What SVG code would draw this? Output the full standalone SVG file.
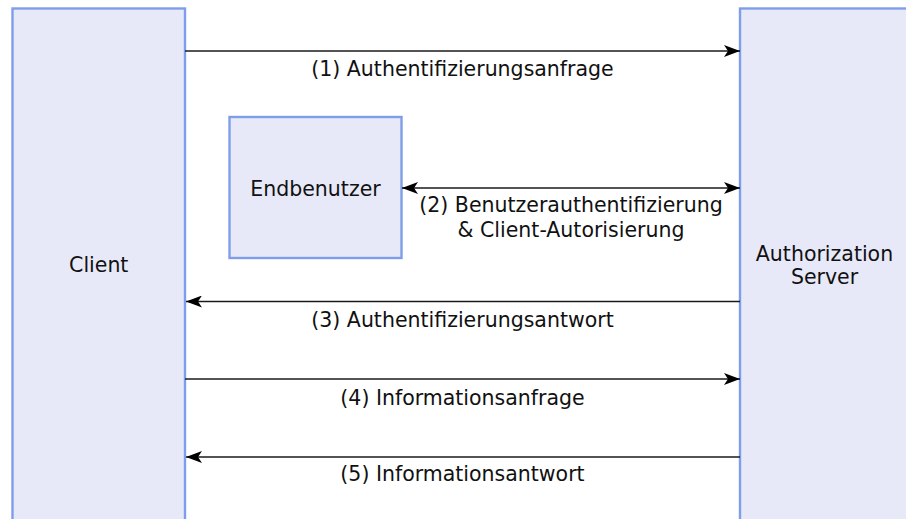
<svg xmlns="http://www.w3.org/2000/svg" width="906" height="519" viewBox="0 0 906 519">
  <style>
    .box { fill: #E8E9F8; stroke: #7F9EEA; stroke-width: 2.4; }
    .lbl { font-family: "DejaVu Sans", "Liberation Sans", sans-serif; font-size: 20.5px; fill: #111; text-anchor: middle; }
    .edge { stroke: #1a1a1a; stroke-width: 1.5; fill: none; }
  </style>
  <defs>
    <marker id="arrowEnd" markerUnits="userSpaceOnUse" viewBox="0 0 16 12" refX="16" refY="6" markerWidth="16" markerHeight="12" orient="auto">
      <path d="M0,0 L16,6 L0,12 L4,6 Z" fill="#000"/>
    </marker>
    <marker id="arrowStart" markerUnits="userSpaceOnUse" viewBox="0 0 16 12" refX="0" refY="6" markerWidth="16" markerHeight="12" orient="auto">
      <path d="M16,0 L0,6 L16,12 L12,6 Z" fill="#000"/>
    </marker>
  </defs>

  <rect width="906" height="519" fill="#fff"/>

  <g id="client">
    <rect class="box" x="12.5" y="8.5" width="172.5" height="514"/>
    <text class="lbl" x="98.75" y="272">Client</text>
  </g>

  <g id="auth-server">
    <rect class="box" x="740" y="8.5" width="172.5" height="514"/>
    <text class="lbl" x="824.5" y="261">Authorization</text>
    <text class="lbl" x="824.5" y="284">Server</text>
  </g>

  <g id="endbenutzer">
    <rect class="box" x="229.5" y="117" width="172" height="141"/>
    <text class="lbl" x="315.5" y="195.5">Endbenutzer</text>
  </g>

  <g id="connectors">
    <line class="edge" x1="185" y1="51" x2="740" y2="51" marker-end="url(#arrowEnd)"/>
    <line class="edge" x1="402" y1="188" x2="740" y2="188" marker-start="url(#arrowStart)" marker-end="url(#arrowEnd)"/>
    <line class="edge" x1="740" y1="301.5" x2="186" y2="301.5" marker-end="url(#arrowEnd)"/>
    <line class="edge" x1="185" y1="379" x2="740" y2="379" marker-end="url(#arrowEnd)"/>
    <line class="edge" x1="740" y1="457" x2="186" y2="457" marker-end="url(#arrowEnd)"/>

    <text class="lbl" x="462.5" y="76">(1) Authentifizierungsanfrage</text>
    <text class="lbl" x="571" y="212">(2) Benutzerauthentifizierung</text>
    <text class="lbl" x="571" y="236.5">&amp; Client-Autorisierung</text>
    <text class="lbl" x="462.5" y="326.5">(3) Authentifizierungsantwort</text>
    <text class="lbl" x="462.5" y="404.5">(4) Informationsanfrage</text>
    <text class="lbl" x="462.5" y="481">(5) Informationsantwort</text>
  </g>
</svg>
